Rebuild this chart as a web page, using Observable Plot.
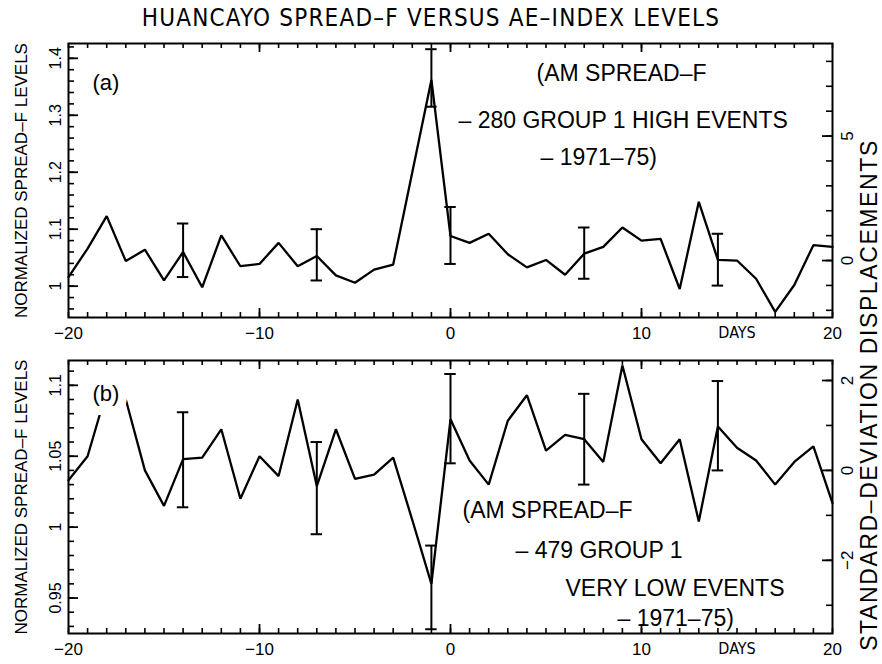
<!DOCTYPE html>
<html>
<head>
<meta charset="utf-8">
<script src="https://cdn.jsdelivr.net/npm/d3@7"></script>
<script src="https://cdn.jsdelivr.net/npm/@observablehq/plot@0.6"></script>
<style>
  html, body { margin: 0; padding: 0; background: #fff; }
  #wrap { position: relative; width: 882px; height: 664px; background: #fff; overflow: hidden; }
  #pa, #pb { position: absolute; left: 0; }
  #pa { top: 0; }
  #pb { top: 345px; }
  #title { position: absolute; top: 4px; left: 0; width: 862px; text-align: center;
           font-family: "Liberation Sans Narrow", "DejaVu Sans Condensed", "Liberation Sans", sans-serif;
           font-size: 24px; letter-spacing: 1.2px; color: #000; line-height: 28px; }
  #rtitle { position: absolute; left: 569px; top: 384px; width: 600px; height: 22px; line-height: 22px;
            text-align: center; transform-origin: 300px 11px; transform: rotate(-90deg);
            font-family: "Liberation Sans", Arial, sans-serif; font-size: 23px; letter-spacing: 1.6px;
            color: #000; white-space: nowrap; }
</style>
</head>
<body>
<div id="wrap">
  <div id="pa"></div>
  <div id="pb"></div>
  <div id="title">HUANCAYO SPREAD–F VERSUS AE–INDEX LEVELS</div>
  <div id="rtitle">STANDARD–DEVIATION DISPLACEMENTS</div>
</div>
<script>
// ---------- data ----------
const days = [-20,-19,-18,-17,-16,-15,-14,-13,-12,-11,-10,-9,-8,-7,-6,-5,-4,-3,-2,-1,0,
              1,2,3,4,5,6,7,8,9,10,11,12,13,14,15,16,17,18,19,20];

// (a) 280 group 1 high events
const levelsA = [1.016,1.066,1.123,1.044,1.064,1.010,1.060,0.998,1.089,1.035,1.039,1.076,1.035,1.053,1.019,1.006,1.029,1.038,1.200,1.362,1.088,
                 1.076,1.092,1.056,1.033,1.046,1.020,1.057,1.069,1.103,1.080,1.083,0.995,1.148,1.046,1.045,1.013,0.955,1.002,1.072,1.069];
// (b) 479 group 1 very low events
const levelsB = [1.033,1.050,1.096,1.090,1.040,1.015,1.048,1.049,1.069,1.020,1.050,1.036,1.090,1.029,1.069,1.034,1.037,1.049,1.005,0.960,1.076,
                 1.047,1.030,1.075,1.093,1.054,1.065,1.062,1.046,1.114,1.062,1.045,1.062,1.004,1.071,1.056,1.047,1.030,1.046,1.057,1.017];

const errDays = [-14,-7,-1,0,7,14];
const errLoA = [1.016,1.010,1.315,1.039,1.013,1.001];
const errHiA = [1.110,1.100,1.416,1.139,1.103,1.092];
const errLoB = [1.014,0.995,0.928,1.045,1.030,1.040];
const errHiB = [1.081,1.060,0.987,1.108,1.094,1.103];

// axes / tick labels
const xTickLabels = [-20,-10,0,10,20];
const xMajorTicks = [-10,0,10];
const daysLabelAt = [15];
const yTickLabelsA = [1,1.1,1.2,1.3,1.4];
const yTickLabelsB = [0.95,1,1.05,1.1];
const sdLabelsA = [0,5];
const sdLabelsB = [-2,0,2];
// right-axis (standard-deviation) mapping onto the left scale
const sdZeroA = 1.045, sdUnitA = 0.0437;
const sdZeroB = 1.040, sdUnitB = 0.0317;
const yDomainA = [0.945, 1.426];
const yDomainB = [0.925, 1.1175];

const notesA = ["(AM SPREAD–F", "– 280 GROUP 1 HIGH EVENTS", "– 1971–75)"];
const notesB = ["(AM SPREAD–F", "– 479 GROUP 1", "VERY LOW EVENTS", "– 1971–75)"];

// ---------- drawing ----------
const W = 882, ML = 68, MR = 50;
const FW = W - ML - MR;
const minus = s => String(s).replace("-", "\u2212");
const fmtLevel = d => String(+d.toFixed(2));
const FONT = "Liberation Sans, Arial, Helvetica, sans-serif";

function panel({levels, lo, hi, height, mt, mb, domain, yMinor, yMajor, yLabels,
                sdZero, sdUnit, sdMinor, sdMajor, sdLabels, tag, tagDy, tagHalo, notes}) {
  const FH = height - mt - mb;
  const rows = days.map((d, i) => ({day: d, level: levels[i]}));
  const err = errDays.map((d, i) => ({day: d, lo: lo[i], hi: hi[i]}));
  const sd = r => sdZero + sdUnit * r;
  const xMinor = days;
  const marks = [
    Plot.frame({stroke: "black", strokeWidth: 2}),
    // x ticks (inward), bottom & top
    Plot.tickX(xMinor, {x: d => d, insetTop: FH - 5, strokeWidth: 1.6}),
    Plot.tickX(xMinor, {x: d => d, insetBottom: FH - 5, strokeWidth: 1.6}),
    Plot.tickX(xMajorTicks, {x: d => d, insetTop: FH - 9, strokeWidth: 1.8}),
    Plot.tickX(xMajorTicks, {x: d => d, insetBottom: FH - 9, strokeWidth: 1.8}),
    // left ticks
    Plot.tickY(yMinor, {y: d => d, insetRight: FW - 6, strokeWidth: 1.6}),
    Plot.tickY(yMajor, {y: d => d, insetRight: FW - 10, strokeWidth: 1.8}),
    // right ticks (standard deviations)
    Plot.tickY(sdMinor, {y: sd, insetLeft: FW - 6, strokeWidth: 1.6}),
    Plot.tickY(sdMajor, {y: sd, insetLeft: FW - 10, strokeWidth: 1.8}),
    // tick labels
    Plot.text(xTickLabels, {x: d => d, text: d => minus(d), frameAnchor: "bottom", textAnchor: "middle", lineAnchor: "top", dy: 9, fontSize: 17}),
    Plot.text(daysLabelAt, {x: d => d, text: () => "DAYS", frameAnchor: "bottom", textAnchor: "middle", lineAnchor: "top", dy: 9, fontSize: 16,
              fontFamily: "Liberation Sans Narrow, DejaVu Sans Condensed, Liberation Sans, sans-serif"}),
    Plot.text(yLabels, {y: d => d, text: fmtLevel, frameAnchor: "left", textAnchor: "middle", lineAnchor: "middle", dx: -13, rotate: -90, fontSize: 16}),
    Plot.text(sdLabels, {y: sd, text: d => minus(d), frameAnchor: "right", textAnchor: "middle", lineAnchor: "middle", dx: 15, rotate: -90, fontSize: 17}),
    Plot.text(["NORMALIZED SPREAD–F LEVELS"], {frameAnchor: "left", textAnchor: "middle", lineAnchor: "middle", dx: -47, rotate: -90, fontSize: 17}),
    // data
    Plot.line(rows, {x: "day", y: "level", stroke: "black", strokeWidth: 2.3, strokeLinejoin: "miter"}),
    Plot.ruleX(err, {x: "day", y1: "lo", y2: "hi", stroke: "black", strokeWidth: 2}),
    Plot.ruleY(err, {y: "lo", x1: d => d.day - 0.3, x2: d => d.day + 0.3, stroke: "black", strokeWidth: 2}),
    Plot.ruleY(err, {y: "hi", x1: d => d.day - 0.3, x2: d => d.day + 0.3, stroke: "black", strokeWidth: 2}),
    // panel tag
    Plot.text([tag], {frameAnchor: "top-left", dx: 24, dy: tagDy, textAnchor: "start", lineAnchor: "middle", fontSize: 22,
                      stroke: tagHalo ? "white" : null, strokeWidth: 18, fill: "black"}),
  ];
  for (const n of notes) {
    marks.push(Plot.text([n.t], {frameAnchor: "top-left", dx: n.dx, dy: n.dy, textAnchor: "start", lineAnchor: "middle", fontSize: 23}));
  }
  return Plot.plot({
    width: W, height, marginLeft: ML, marginRight: MR, marginTop: mt, marginBottom: mb,
    x: {domain: [-20, 20], axis: null},
    y: {domain, axis: null},
    style: {fontFamily: FONT, color: "black", background: "transparent", overflow: "visible"},
    marks
  });
}

const chartA = panel({
  levels: levelsA, lo: errLoA, hi: errHiA, height: 345, mt: 43, mb: 28, domain: yDomainA,
  yMinor: d3.range(0.96, 1.421, 0.02), yMajor: yTickLabelsA, yLabels: yTickLabelsA,
  sdZero: sdZeroA, sdUnit: sdUnitA, sdMinor: d3.range(-2, 9), sdMajor: sdLabelsA, sdLabels: sdLabelsA,
  tag: "(a)", tagDy: 39, tagHalo: false,
  notes: [{t: notesA[0], dx: 468, dy: 30}, {t: notesA[1], dx: 390, dy: 77}, {t: notesA[2], dx: 472, dy: 114}]
});
const chartB = panel({
  levels: levelsB, lo: errLoB, hi: errHiB, height: 319, mt: 15, mb: 31, domain: yDomainB,
  yMinor: d3.range(0.93, 1.111, 0.01), yMajor: yTickLabelsB, yLabels: yTickLabelsB,
  sdZero: sdZeroB, sdUnit: sdUnitB, sdMinor: d3.range(-3, 3), sdMajor: sdLabelsB, sdLabels: sdLabelsB,
  tag: "(b)", tagDy: 33, tagHalo: true,
  notes: [{t: notesB[0], dx: 394, dy: 150}, {t: notesB[1], dx: 447, dy: 190}, {t: notesB[2], dx: 497, dy: 228}, {t: notesB[3], dx: 549, dy: 258}]
});
document.getElementById("pa").appendChild(chartA);
document.getElementById("pb").appendChild(chartB);
</script>
</body>
</html>
